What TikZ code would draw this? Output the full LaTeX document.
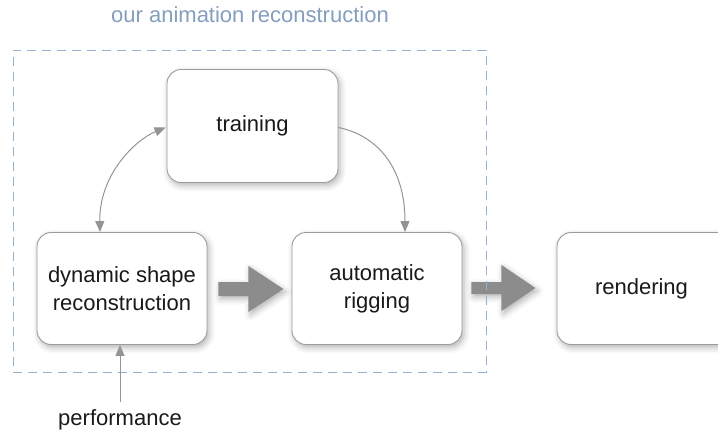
\documentclass[tikz,border=0pt]{standalone}
\usepackage{fontspec}
\setmainfont{Liberation Sans}
\usetikzlibrary{arrows.meta,calc,shadows.blur}
\definecolor{framecol}{RGB}{150,176,206}
\definecolor{titlecol}{RGB}{132,158,190}
\definecolor{boxline}{RGB}{155,155,155}
\definecolor{linkgray}{RGB}{148,148,148}
\definecolor{fatgray}{RGB}{140,140,140}
\definecolor{ink}{RGB}{25,25,25}
\begin{document}
\begin{tikzpicture}[x=1pt,y=-1pt,
  font=\fontsize{22}{28}\selectfont,
  softshadow/.style={blur shadow={shadow xshift=2pt,shadow yshift=-3pt,
      shadow blur radius=6pt,shadow opacity=30}},
  stagebox/.style={draw=boxline,line width=0.9pt,fill=white,
      rounded corners=14pt,minimum width=170pt,minimum height=112pt,
      align=center,text=ink,softshadow},
  link/.style={draw=linkgray,line width=1pt,-{Triangle[length=11pt,width=9pt]}},
  fatarrow/.style={fill=fatgray,softshadow},
  groupframe/.style={draw=framecol,line width=1pt,dash pattern=on 9pt off 6pt,
      minimum width=473pt,minimum height=322pt,inner sep=0pt},
  caption/.style={text=titlecol,inner sep=0pt,anchor=base},
  label/.style={text=ink,inner sep=0pt,anchor=base}]
\useasboundingbox (0,0) rectangle (718,434);
\clip (0,0) rectangle (718,434);

% stages of the pipeline
\node[stagebox,minimum width=171pt,minimum height=113pt] (trn) at (252.5,126) {training};
\node[stagebox] (dyn) at (122,288.5) {dynamic shape\\reconstruction};
\node[stagebox] (rig) at (377,288.5) {automatic\\rigging};
% the last stage runs on past the right edge
\node[stagebox,minimum width=220pt,text width=190pt,align=left] (ren) at (667,288.5)
  {\hspace*{23pt}rendering};

% input label and group caption
\node[label] (perf) at (120,425) {performance};
\node[caption] (cap) at (250,22) {our animation reconstruction};

% wide block arrows between stages
\path[fatarrow] ($(dyn.east)+(11,-6.5)$) -- ++(30,0) -- ++(0,-16) -- ++(35,23) -- ++(-35,23)
  -- ++(0,-16) -- ++(-30,0) -- cycle;
\path[fatarrow] ($(rig.east)+(9,-6.5)$) -- ++(30,0) -- ++(0,-17) -- ++(34,23) -- ++(-34,23)
  -- ++(0,-17) -- ++(-30,0) -- cycle;

% dashed group boundary
\node[groupframe] (grp) at (249.5,211) {};

% thin curved links
\draw[link,{Triangle[length=11pt,width=9pt]}-{Triangle[length=11pt,width=9pt]}]
  ($(trn.west)+(-1,1.5)$) .. controls (135,140) and (99,175) .. ($(dyn.north)+(-22,0)$);
\draw[link] ($(trn.east)+(0,1.5)$) .. controls (375,135) and (405,165) .. ($(rig.north)+(28,0)$);
\draw[link] ($(perf.north)+(0,-7)$) -- (perf.north |- dyn.south);
\end{tikzpicture}
\end{document}
